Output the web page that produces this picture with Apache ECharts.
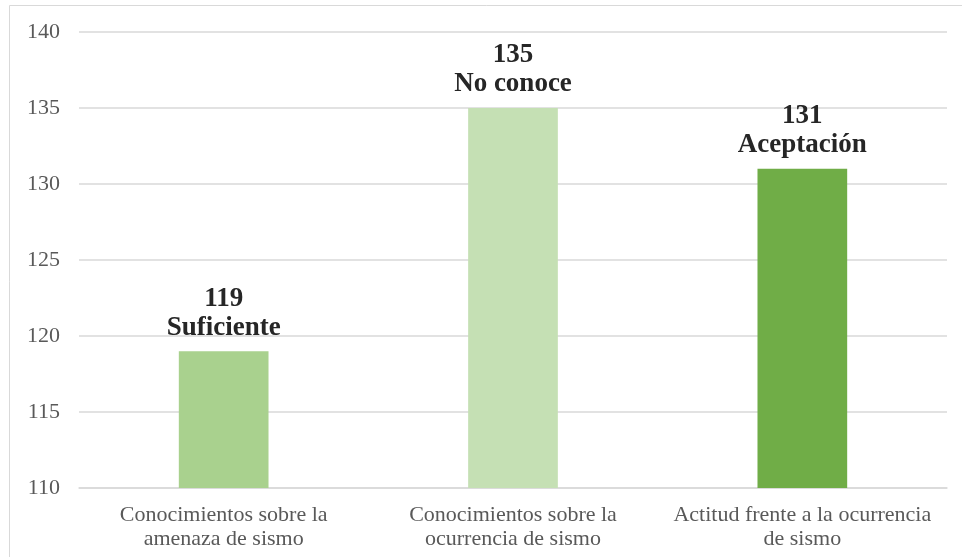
<!DOCTYPE html>
<html>
<head>
<meta charset="utf-8">
<script src="https://cdn.jsdelivr.net/npm/echarts@6/dist/echarts.min.js"></script>
<style>
  html, body { margin: 0; padding: 0; background: #fff; }
  #container { width: 962px; height: 557px; }
</style>
</head>
<body>
<div id="container"></div>
<script>
var categories = [
  'Conocimientos sobre la\namenaza de sismo',
  'Conocimientos sobre la\nocurrencia de sismo',
  'Actitud frente a la ocurrencia\nde sismo'
];
var values = [119, 135, 131];
var levels = ['Suficiente', 'No conoce', 'Aceptación'];
var barColors = ['#A9D18E', '#C5E0B4', '#70AD47'];

var dom = document.getElementById('container');
var myChart = echarts.init(dom);

var option = {
  animation: false,
  backgroundColor: '#fff',
  graphic: [{
    type: 'rect',
    shape: { x: 9.5, y: 5.5, width: 960, height: 560 },
    style: { fill: 'none', stroke: '#d9d9d9', lineWidth: 1 }
  }],
  grid: {
    left: 79,
    right: 15,
    top: 32,
    bottom: 69
  },
  xAxis: {
    type: 'category',
    data: categories,
    axisTick: { show: false },
    axisLine: { lineStyle: { color: '#d9d9d9', width: 1.5 } },
    axisLabel: {
      interval: 0,
      hideOverlap: false,
      color: '#595959',
      fontFamily: 'Liberation Serif',
      fontSize: 22,
      lineHeight: 24,
      margin: 15
    }
  },
  yAxis: {
    type: 'value',
    min: 110,
    max: 140,
    interval: 5,
    axisLine: { show: false },
    axisTick: { show: false },
    splitLine: { lineStyle: { color: '#d9d9d9', width: 1.5 } },
    axisLabel: {
      color: '#595959',
      fontFamily: 'Liberation Serif',
      fontSize: 22,
      margin: 19
    }
  },
  series: [{
    type: 'bar',
    barWidth: '31%',
    data: values.map(function (v, i) {
      return { value: v, itemStyle: { color: barColors[i] } };
    }),
    label: {
      show: true,
      position: 'top',
      distance: 9,
      color: '#262626',
      fontFamily: 'Liberation Serif',
      fontWeight: 'bold',
      fontSize: 27,
      lineHeight: 29,
      formatter: function (p) {
        return p.value + '\n' + levels[p.dataIndex];
      }
    }
  }]
};

if (option && typeof option === 'object') {
  myChart.setOption(option);
}
</script>
</body>
</html>
